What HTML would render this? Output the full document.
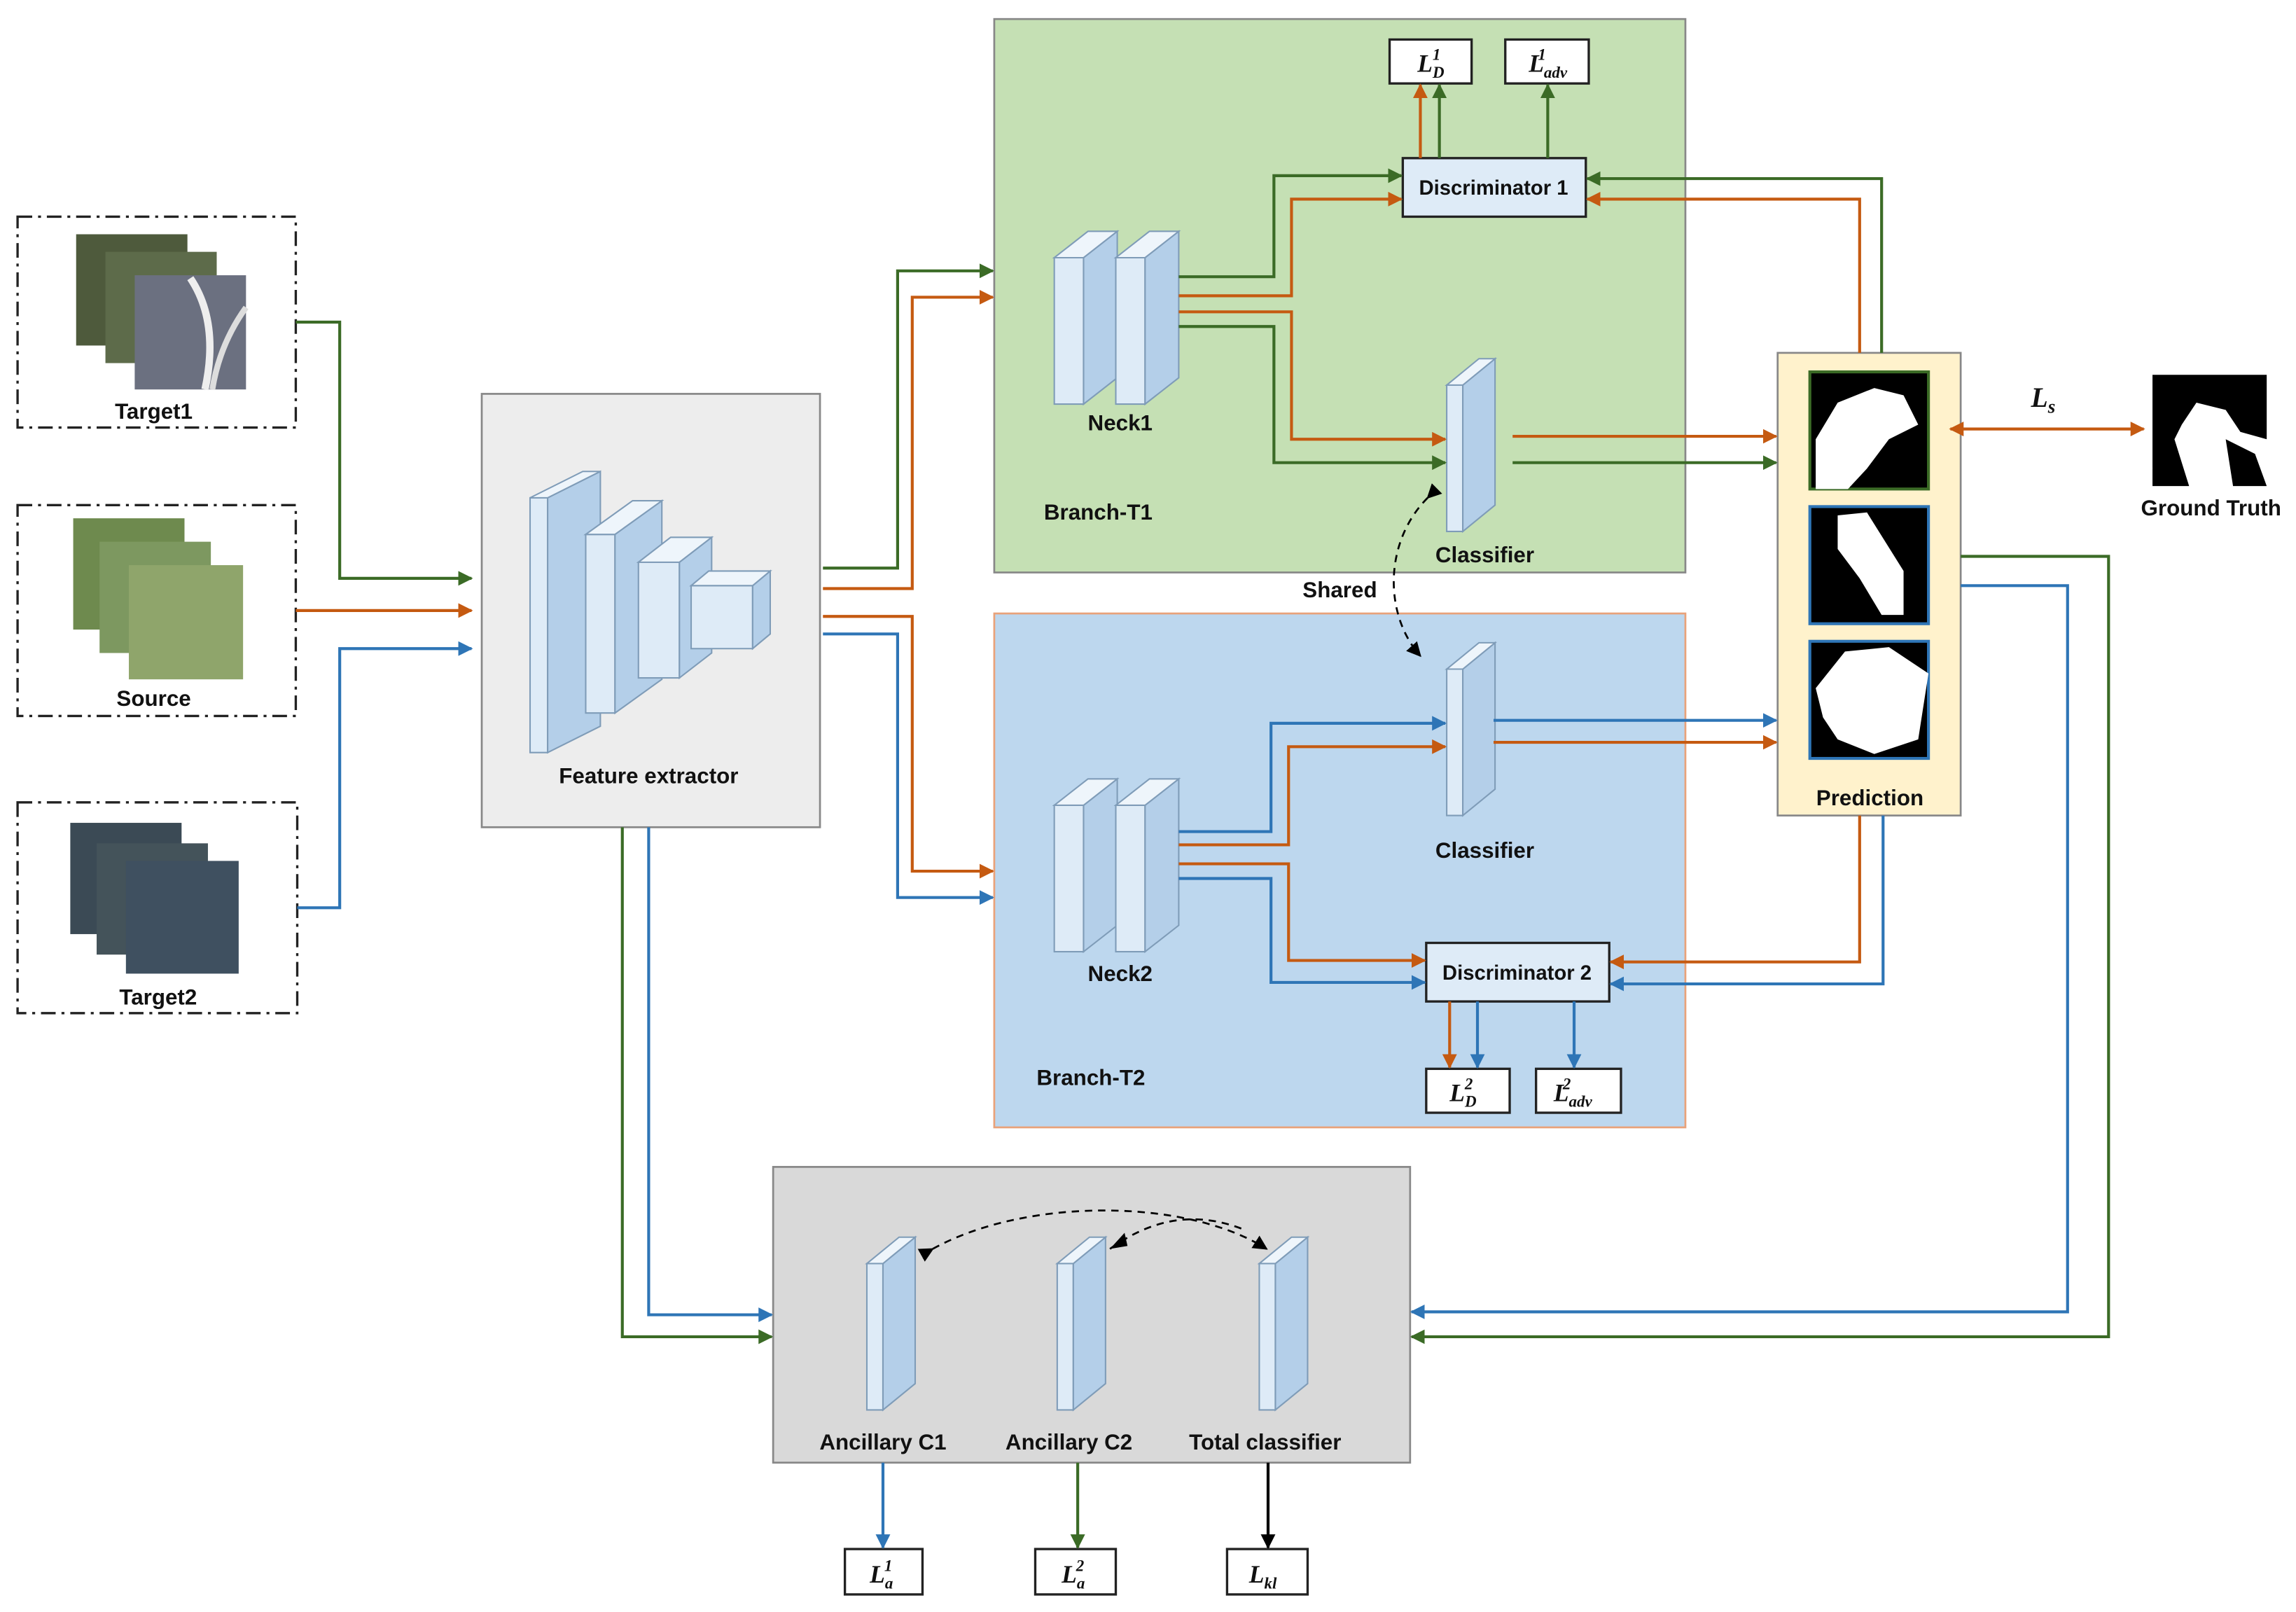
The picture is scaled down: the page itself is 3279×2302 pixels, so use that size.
<!DOCTYPE html>
<html><head><meta charset="utf-8">
<style>
html,body{margin:0;padding:0;background:#fff;}
svg{display:block;}
text{font-family:"Liberation Sans",sans-serif;font-weight:bold;font-size:15px;fill:#111;}
.m{font-family:"Liberation Serif",serif;font-style:italic;font-size:17px;}
</style></head><body>
<svg width="3279" height="2302" viewBox="0 0 1568 1101" preserveAspectRatio="none" xmlns="http://www.w3.org/2000/svg">
<defs>
<marker id="ag" markerWidth="10" markerHeight="10" refX="9" refY="5" orient="auto" markerUnits="userSpaceOnUse"><path d="M0,0 L10,5 L0,10 z" fill="#3b6b26"/></marker>
<marker id="ao" markerWidth="10" markerHeight="10" refX="9" refY="5" orient="auto" markerUnits="userSpaceOnUse"><path d="M0,0 L10,5 L0,10 z" fill="#c55a11"/></marker>
<marker id="ab" markerWidth="10" markerHeight="10" refX="9" refY="5" orient="auto" markerUnits="userSpaceOnUse"><path d="M0,0 L10,5 L0,10 z" fill="#2e75b6"/></marker>
<marker id="ak" markerWidth="10" markerHeight="10" refX="9" refY="5" orient="auto" markerUnits="userSpaceOnUse"><path d="M0,0 L10,5 L0,10 z" fill="#000"/></marker>
<marker id="aos" markerWidth="10" markerHeight="10" refX="1" refY="5" orient="auto" markerUnits="userSpaceOnUse"><path d="M10,0 L0,5 L10,10 z" fill="#c55a11"/></marker>
<g id="slab">
<polygon points="0,18 11,18 11,118 0,118" fill="#deebf7" stroke="#7f9cb8" stroke-width="1"/>
<polygon points="11,18 33,0 33,100 11,118" fill="#b4cfe9" stroke="#7f9cb8" stroke-width="1"/>
<polygon points="0,18 22,0 33,0 11,18" fill="#eef5fb" stroke="#7f9cb8" stroke-width="1"/>
</g>
<g id="neck">
<polygon points="0,18 20,18 20,118 0,118" fill="#deebf7" stroke="#7f9cb8"/>
<polygon points="20,18 43,0 43,100 20,118" fill="#b4cfe9" stroke="#7f9cb8"/>
<polygon points="0,18 23,0 43,0 20,18" fill="#eef5fb" stroke="#7f9cb8"/>
</g>
</defs>

<!-- input boxes -->
<g fill="none" stroke="#222" stroke-width="1.6" stroke-dasharray="10,4,2,4">
<rect x="12" y="148" width="190" height="144"/>
<rect x="12" y="345" width="190" height="144"/>
<rect x="12" y="548" width="191" height="144"/>
</g>
<!-- photos -->
<g>
<rect x="52" y="160" width="76" height="76" fill="#4e5a3c"/><rect x="72" y="172" width="76" height="76" fill="#5d6b4a"/><rect x="92" y="188" width="76" height="78" fill="#6b7080"/>
<path d="M130,190 Q150,220 140,266" stroke="#eee" stroke-width="5" fill="none"/><path d="M168,210 Q150,235 145,266" stroke="#ddd" stroke-width="4" fill="none"/>
<rect x="50" y="354" width="76" height="76" fill="#6e8a4e"/><rect x="68" y="370" width="76" height="76" fill="#7d9860"/><rect x="88" y="386" width="78" height="78" fill="#8fa56b"/>
<rect x="48" y="562" width="76" height="76" fill="#3b4a55"/><rect x="66" y="576" width="76" height="76" fill="#44535a"/><rect x="86" y="588" width="77" height="77" fill="#3f5060"/>
</g>
<text x="105" y="286" text-anchor="middle">Target1</text>
<text x="105" y="482" text-anchor="middle">Source</text>
<text x="108" y="686" text-anchor="middle">Target2</text>

<!-- big boxes -->
<rect x="329" y="269" width="231" height="296" fill="#ededed" stroke="#888" stroke-width="1.3"/>
<rect x="679" y="13" width="472" height="378" fill="#c5e0b4" stroke="#888" stroke-width="1.3"/>
<rect x="679" y="419" width="472" height="351" fill="#bdd7ee" stroke="#e9a27a" stroke-width="1.3"/>
<rect x="528" y="797" width="435" height="202" fill="#d9d9d9" stroke="#888" stroke-width="1.3"/>
<rect x="1214" y="241" width="125" height="316" fill="#fff2cc" stroke="#888" stroke-width="1.3"/>

<!-- feature extractor blocks -->
<g stroke="#7f9cb8" stroke-width="1">
<polygon points="362,340 374,340 374,514 362,514" fill="#deebf7"/>
<polygon points="374,340 410,322 410,496 374,514" fill="#b4cfe9"/>
<polygon points="362,340 398,322 410,322 374,340" fill="#eef5fb"/>
<polygon points="400,365 420,365 420,487 400,487" fill="#deebf7"/>
<polygon points="420,365 452,342 452,464 420,487" fill="#b4cfe9"/>
<polygon points="400,365 432,342 452,342 420,365" fill="#eef5fb"/>
<polygon points="436,384 464,384 464,463 436,463" fill="#deebf7"/>
<polygon points="464,384 486,367 486,446 464,463" fill="#b4cfe9"/>
<polygon points="436,384 458,367 486,367 464,384" fill="#eef5fb"/>
<polygon points="472,400 514,400 514,443 472,443" fill="#deebf7"/>
<polygon points="514,400 526,390 526,433 514,443" fill="#b4cfe9"/>
<polygon points="472,400 484,390 526,390 514,400" fill="#eef5fb"/>
</g>
<text x="443" y="535" text-anchor="middle">Feature extractor</text>

<!-- necks, classifiers -->
<use href="#neck" x="720" y="158"/><use href="#neck" x="762" y="158"/>
<use href="#neck" x="720" y="532"/><use href="#neck" x="762" y="532"/>
<text x="765" y="294" text-anchor="middle">Neck1</text>
<text x="765" y="670" text-anchor="middle">Neck2</text>
<text x="750" y="355" text-anchor="middle">Branch-T1</text>
<text x="745" y="741" text-anchor="middle">Branch-T2</text>
<use href="#slab" x="988" y="245"/><use href="#slab" x="988" y="439"/>
<text x="1014" y="384" text-anchor="middle">Classifier</text>
<text x="1014" y="586" text-anchor="middle">Classifier</text>
<use href="#slab" x="592" y="845"/><use href="#slab" x="722" y="845"/><use href="#slab" x="860" y="845"/>
<text x="603" y="990" text-anchor="middle">Ancillary C1</text>
<text x="730" y="990" text-anchor="middle">Ancillary C2</text>
<text x="864" y="990" text-anchor="middle">Total classifier</text>

<!-- discriminators & loss boxes -->
<g fill="#deebf7" stroke="#222" stroke-width="1.6">
<rect x="958" y="108" width="125" height="40"/>
<rect x="974" y="644" width="125" height="40"/>
</g>
<g fill="#fff" stroke="#222" stroke-width="1.6">
<rect x="949" y="27" width="56" height="30"/><rect x="1028" y="27" width="57" height="30"/>
<rect x="974" y="730" width="57" height="30"/><rect x="1049" y="730" width="58" height="30"/>
<rect x="577" y="1058" width="53" height="31"/><rect x="707" y="1058" width="55" height="31"/><rect x="838" y="1058" width="55" height="31"/>
</g>
<text x="1020" y="133" text-anchor="middle" style="font-size:14px">Discriminator 1</text>
<text x="1036" y="669" text-anchor="middle" style="font-size:14px">Discriminator 2</text>
<text x="968" y="49" class="m">L<tspan font-size="11" dy="4">D</tspan><tspan font-size="11" dx="-8" dy="-12">1</tspan></text>
<text x="1044" y="49" class="m">L<tspan font-size="11" dy="4">adv</tspan><tspan font-size="11" dx="-20" dy="-12">1</tspan></text>
<text x="990" y="752" class="m">L<tspan font-size="11" dy="4">D</tspan><tspan font-size="11" dx="-8" dy="-12">2</tspan></text>
<text x="1061" y="752" class="m">L<tspan font-size="11" dy="4">adv</tspan><tspan font-size="11" dx="-20" dy="-12">2</tspan></text>
<text x="594" y="1081" class="m">L<tspan font-size="11" dy="4">a</tspan><tspan font-size="11" dx="-6" dy="-12">1</tspan></text>
<text x="725" y="1081" class="m">L<tspan font-size="11" dy="4">a</tspan><tspan font-size="11" dx="-6" dy="-12">2</tspan></text>
<text x="853" y="1081" class="m">L<tspan font-size="11" dy="4">kl</tspan></text>

<!-- prediction images -->
<rect x="1236" y="254" width="81" height="80" fill="#000" stroke="#3b6b26" stroke-width="2"/>
<path d="M1240,300 L1255,275 L1280,265 L1300,270 L1310,290 L1290,300 L1275,320 L1262,334 L1240,334z" fill="#fff"/>
<rect x="1236" y="346" width="81" height="80" fill="#000" stroke="#2e75b6" stroke-width="2"/>
<path d="M1255,352 L1275,350 L1300,390 L1300,420 L1285,420 L1270,395 L1255,375z" fill="#fff"/>
<rect x="1236" y="438" width="81" height="80" fill="#000" stroke="#2e75b6" stroke-width="2"/>
<path d="M1240,470 L1260,445 L1290,442 L1317,460 L1310,505 L1280,515 L1255,505 L1245,490z" fill="#fff"/>
<text x="1277" y="550" text-anchor="middle">Prediction</text>
<rect x="1470" y="256" width="78" height="76" fill="#fff"/>
<path d="M1470,256 L1548,256 L1548,300 L1530,295 L1520,280 L1500,275 L1490,290 L1480,310 L1470,320z" fill="#000"/>
<path d="M1470,320 L1485,300 L1495,332 L1470,332z M1520,300 L1540,310 L1548,332 L1525,332z" fill="#000"/>
<text x="1510" y="352" text-anchor="middle">Ground Truth</text>
<text x="1387" y="278" class="m" style="font-size:19px">L<tspan font-size="13" dy="4">s</tspan></text>
<text x="915" y="408" text-anchor="middle">Shared</text>

<!-- connectors -->
<g fill="none" stroke-width="2">
<polyline points="202,220 232,220 232,395 322,395" stroke="#3b6b26" marker-end="url(#ag)"/>
<polyline points="202,417 322,417" stroke="#c55a11" marker-end="url(#ao)"/>
<polyline points="203,620 232,620 232,443 322,443" stroke="#2e75b6" marker-end="url(#ab)"/>
<polyline points="562,388 613,388 613,185 678,185" stroke="#3b6b26" marker-end="url(#ag)"/>
<polyline points="562,402 623,402 623,203 678,203" stroke="#c55a11" marker-end="url(#ao)"/>
<polyline points="562,421 623,421 623,595 678,595" stroke="#c55a11" marker-end="url(#ao)"/>
<polyline points="562,433 613,433 613,613 678,613" stroke="#2e75b6" marker-end="url(#ab)"/>
<polyline points="425,565 425,913 527,913" stroke="#3b6b26" marker-end="url(#ag)"/>
<polyline points="443,565 443,898 527,898" stroke="#2e75b6" marker-end="url(#ab)"/>
<polyline points="805,189 870,189 870,120 957,120" stroke="#3b6b26" marker-end="url(#ag)"/>
<polyline points="805,202 882,202 882,136 957,136" stroke="#c55a11" marker-end="url(#ao)"/>
<polyline points="805,213 882,213 882,300 987,300" stroke="#c55a11" marker-end="url(#ao)"/>
<polyline points="805,223 870,223 870,316 987,316" stroke="#3b6b26" marker-end="url(#ag)"/>
<polyline points="970,108 970,58" stroke="#c55a11" marker-end="url(#ao)"/>
<polyline points="983,108 983,58" stroke="#3b6b26" marker-end="url(#ag)"/>
<polyline points="1057,108 1057,58" stroke="#3b6b26" marker-end="url(#ag)"/>
<polyline points="1285,241 1285,122 1084,122" stroke="#3b6b26" marker-end="url(#ag)"/>
<polyline points="1270,241 1270,136 1084,136" stroke="#c55a11" marker-end="url(#ao)"/>
<polyline points="1033,298 1213,298" stroke="#c55a11" marker-end="url(#ao)"/>
<polyline points="1033,316 1213,316" stroke="#3b6b26" marker-end="url(#ag)"/>
<polyline points="1020,492 1213,492" stroke="#2e75b6" marker-end="url(#ab)"/>
<polyline points="1020,507 1213,507" stroke="#c55a11" marker-end="url(#ao)"/>
<polyline points="805,568 868,568 868,494 987,494" stroke="#2e75b6" marker-end="url(#ab)"/>
<polyline points="805,577 880,577 880,510 987,510" stroke="#c55a11" marker-end="url(#ao)"/>
<polyline points="805,590 880,590 880,656 973,656" stroke="#c55a11" marker-end="url(#ao)"/>
<polyline points="805,600 868,600 868,671 973,671" stroke="#2e75b6" marker-end="url(#ab)"/>
<polyline points="1270,557 1270,657 1100,657" stroke="#c55a11" marker-end="url(#ao)"/>
<polyline points="1286,557 1286,672 1100,672" stroke="#2e75b6" marker-end="url(#ab)"/>
<polyline points="990,684 990,729" stroke="#c55a11" marker-end="url(#ao)"/>
<polyline points="1009,684 1009,729" stroke="#2e75b6" marker-end="url(#ab)"/>
<polyline points="1075,684 1075,729" stroke="#2e75b6" marker-end="url(#ab)"/>
<polyline points="1339,380 1440,380 1440,913 964,913" stroke="#3b6b26" marker-end="url(#ag)"/>
<polyline points="1339,400 1412,400 1412,896 964,896" stroke="#2e75b6" marker-end="url(#ab)"/>
<polyline points="1332,293 1464,293" stroke="#c55a11" marker-start="url(#aos)" marker-end="url(#ao)"/>
<polyline points="603,999 603,1057" stroke="#2e75b6" marker-end="url(#ab)"/>
<polyline points="736,999 736,1057" stroke="#3b6b26" marker-end="url(#ag)"/>
<polyline points="866,999 866,1057" stroke="#000" marker-end="url(#ak)"/>
</g>
<g fill="none" stroke="#000" stroke-width="1.3" stroke-dasharray="5,4">
<path d="M975,340 C945,370 945,420 970,448" marker-start="url(#ak)" marker-end="url(#ak)"/>
<path d="M637,853 C700,818 810,818 865,853" marker-start="url(#ak)" marker-end="url(#ak)"/>
<path d="M758,853 C790,830 820,828 850,840"/>
</g>
<polygon points="758,853 768,842 770,851" fill="#000"/>
</svg>
</body></html>
